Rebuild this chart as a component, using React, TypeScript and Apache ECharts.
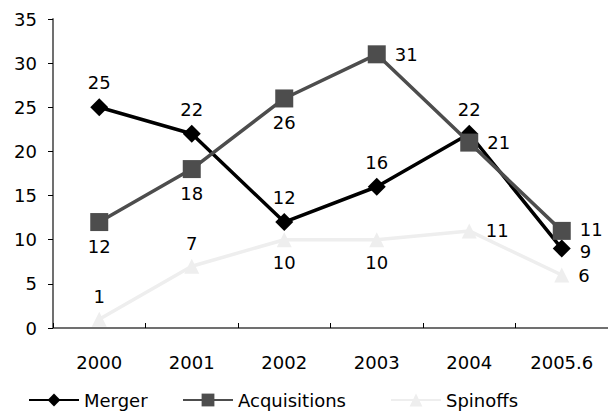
import React, { useEffect, useRef } from "react";
import * as echarts from "echarts";

const categories = ["2000", "2001", "2002", "2003", "2004", "2005.6"];
const mergerValues = [25, 22, 12, 16, 22, 9];
const acquisitionValues = [12, 18, 26, 31, 21, 11];
const spinoffValues = [1, 7, 10, 10, 11, 6];
const mergerLabelPos = ["top", "top", "top", "top", "top", "right"];
const acquisitionLabelPos = ["bottom", "bottom", "bottom", "right", "right", "right"];
const spinoffLabelPos = ["top", "top", "bottom", "bottom", "right", "right"];

const FONT = "DejaVu Sans";

function withLabels(values: number[], pos: string[], lastOffset: number) {
  return values.map((v, i) => ({
    value: v,
    label: {
      position: pos[i],
      distance: pos[i] === "right" ? 9 : 8,
      offset: i === values.length - 1 ? [0, lastOffset] : [0, 0],
    },
  }));
}

export default function App() {
  const ref = useRef<HTMLDivElement>(null);
  useEffect(() => {
    if (!ref.current) return;
    const chart = echarts.init(ref.current, null, { renderer: "svg" });
    const labelStyle = {
      show: true,
      color: "#000",
      fontFamily: FONT,
      fontSize: 18,
      lineHeight: 15,
    };
    const legendBase = {
      top: 391,
      itemWidth: 50,
      itemHeight: 16,
      itemGap: 4,
      textStyle: { fontFamily: FONT, fontSize: 18, color: "#000", lineHeight: 18 },
      padding: 0,
    };
    chart.setOption({
      animation: false,
      backgroundColor: "#fff",
      grid: { left: 53, top: 19, width: 561, height: 309, containLabel: false },
      legend: [
        { ...legendBase, left: 28, data: ["Merger"] },
        { ...legendBase, left: 182, data: ["Acquisitions"] },
        { ...legendBase, left: 390, data: ["Spinoffs"] },
      ],
      xAxis: {
        type: "category",
        data: categories,
        boundaryGap: true,
        axisLine: { show: true, lineStyle: { color: "#707070", width: 2 } },
        axisTick: { show: true, inside: true, length: 5, lineStyle: { color: "#000", width: 1 } },
        axisLabel: { color: "#000", fontFamily: FONT, fontSize: 18, margin: 25 },
        splitLine: { show: false },
      },
      yAxis: {
        type: "value",
        min: 0,
        max: 35,
        interval: 5,
        axisLine: { show: true, lineStyle: { color: "#707070", width: 2 } },
        axisTick: { show: true, inside: false, length: 5, lineStyle: { color: "#000", width: 1 } },
        axisLabel: { color: "#000", fontFamily: FONT, fontSize: 18, margin: 16 },
        splitLine: { show: false },
      },
      series: [
        {
          name: "Spinoffs",
          type: "line",
          data: withLabels(spinoffValues, spinoffLabelPos, 0),
          symbol: "triangle",
          symbolSize: 15,
          z: 1,
          lineStyle: { color: "#eeeeee", width: 3.5 },
          itemStyle: { color: "#eeeeee" },
          label: labelStyle,
        },
        {
          name: "Merger",
          type: "line",
          data: withLabels(mergerValues, mergerLabelPos, 3),
          symbol: "diamond",
          symbolSize: 18,
          z: 2,
          lineStyle: { color: "#000000", width: 3.5 },
          itemStyle: { color: "#000000" },
          label: labelStyle,
        },
        {
          name: "Acquisitions",
          type: "line",
          data: withLabels(acquisitionValues, acquisitionLabelPos, -1),
          symbol: "rect",
          symbolSize: 18,
          z: 3,
          lineStyle: { color: "#4d4d4d", width: 3.5 },
          itemStyle: { color: "#4d4d4d" },
          label: labelStyle,
        },
      ],
    });
    return () => chart.dispose();
  }, []);
  return (
    <div
      ref={ref}
      style={{ position: "absolute", left: 0, top: 0, width: 608, height: 411 }}
    />
  );
}
